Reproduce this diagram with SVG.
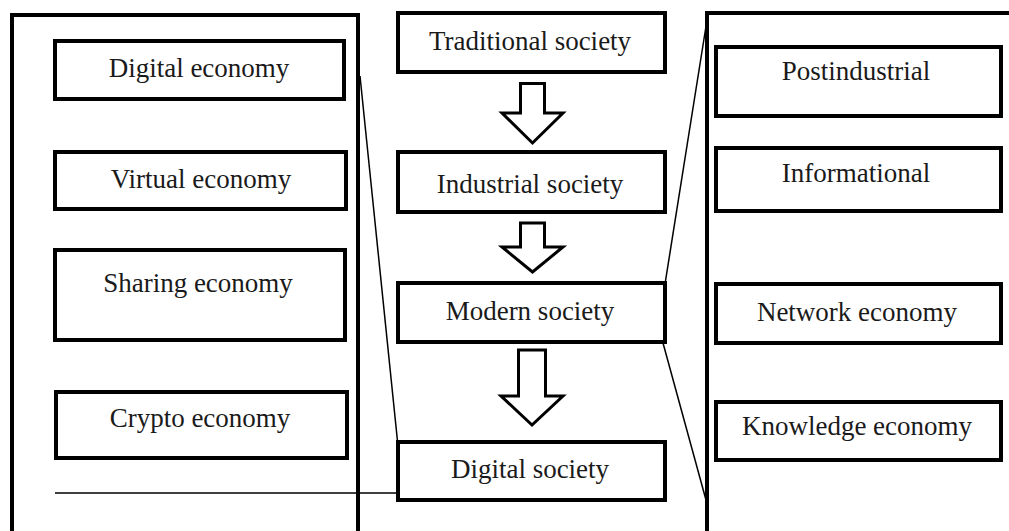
<svg xmlns="http://www.w3.org/2000/svg" width="1009" height="531" viewBox="0 0 1009 531">
<style>
.frame{fill:none;stroke:#000;stroke-width:4}
.box{fill:#fff;stroke:#000;stroke-width:4}
.arrow{fill:#fff;stroke:#000;stroke-width:3;stroke-linejoin:miter}
.line{fill:none;stroke:#000;stroke-width:1.5}
text{font-family:"Liberation Serif","Times New Roman",serif;font-size:27px;fill:#1a1a1a;text-anchor:middle}
</style>
<rect width="1009" height="531" fill="#fff"/>
<g id="left-group"><rect class="frame" x="12" y="15" width="346" height="600"/></g>
<g id="right-group"><rect class="frame" x="707" y="13" width="400" height="600"/></g>
<g id="connectors">
<line class="line" x1="360" y1="76" x2="398" y2="446"/>
<line class="line" x1="55" y1="493" x2="398" y2="493"/>
<line class="line" x1="665" y1="284" x2="707" y2="20"/>
<line class="line" x1="663" y1="343" x2="706" y2="500"/>
<polygon class="arrow" points="520.5,83.5 544.5,83.5 544.5,113 563,113 532.5,143 502,113 520.5,113"/>
<polygon class="arrow" points="520.5,223 544.5,223 544.5,247 563,247 532.5,272 502,247 520.5,247"/>
<polygon class="arrow" points="518.5,350 545.5,350 545.5,396 563,396 532,425 501,396 518.5,396"/>
</g>
<g id="digital-economy"><rect class="box" x="55" y="41" width="289" height="58"/><text x="199" y="77">Digital economy</text></g>
<g id="virtual-economy"><rect class="box" x="55" y="152" width="291" height="57"/><text x="201" y="188">Virtual economy</text></g>
<g id="sharing-economy"><rect class="box" x="55" y="250" width="290" height="90"/><text x="198" y="292">Sharing economy</text></g>
<g id="crypto-economy"><rect class="box" x="56" y="392" width="291" height="66"/><text x="200" y="427">Crypto economy</text></g>
<g id="traditional-society"><rect class="box" x="398" y="13" width="267" height="59"/><text x="530" y="50">Traditional society</text></g>
<g id="industrial-society"><rect class="box" x="398" y="152" width="267" height="60"/><text x="530" y="193">Industrial society</text></g>
<g id="modern-society"><rect class="box" x="398" y="283" width="267" height="59"/><text x="530" y="320">Modern society</text></g>
<g id="digital-society"><rect class="box" x="398" y="442" width="267" height="58"/><text x="530" y="478">Digital society</text></g>
<g id="postindustrial"><rect class="box" x="716" y="47" width="285" height="69"/><text x="856" y="80">Postindustrial</text></g>
<g id="informational"><rect class="box" x="716" y="148" width="285" height="63"/><text x="856" y="182">Informational</text></g>
<g id="network-economy"><rect class="box" x="716" y="284" width="285" height="59"/><text x="857" y="321">Network economy</text></g>
<g id="knowledge-economy"><rect class="box" x="716" y="402" width="285" height="58"/><text x="857" y="435">Knowledge economy</text></g>
</svg>
